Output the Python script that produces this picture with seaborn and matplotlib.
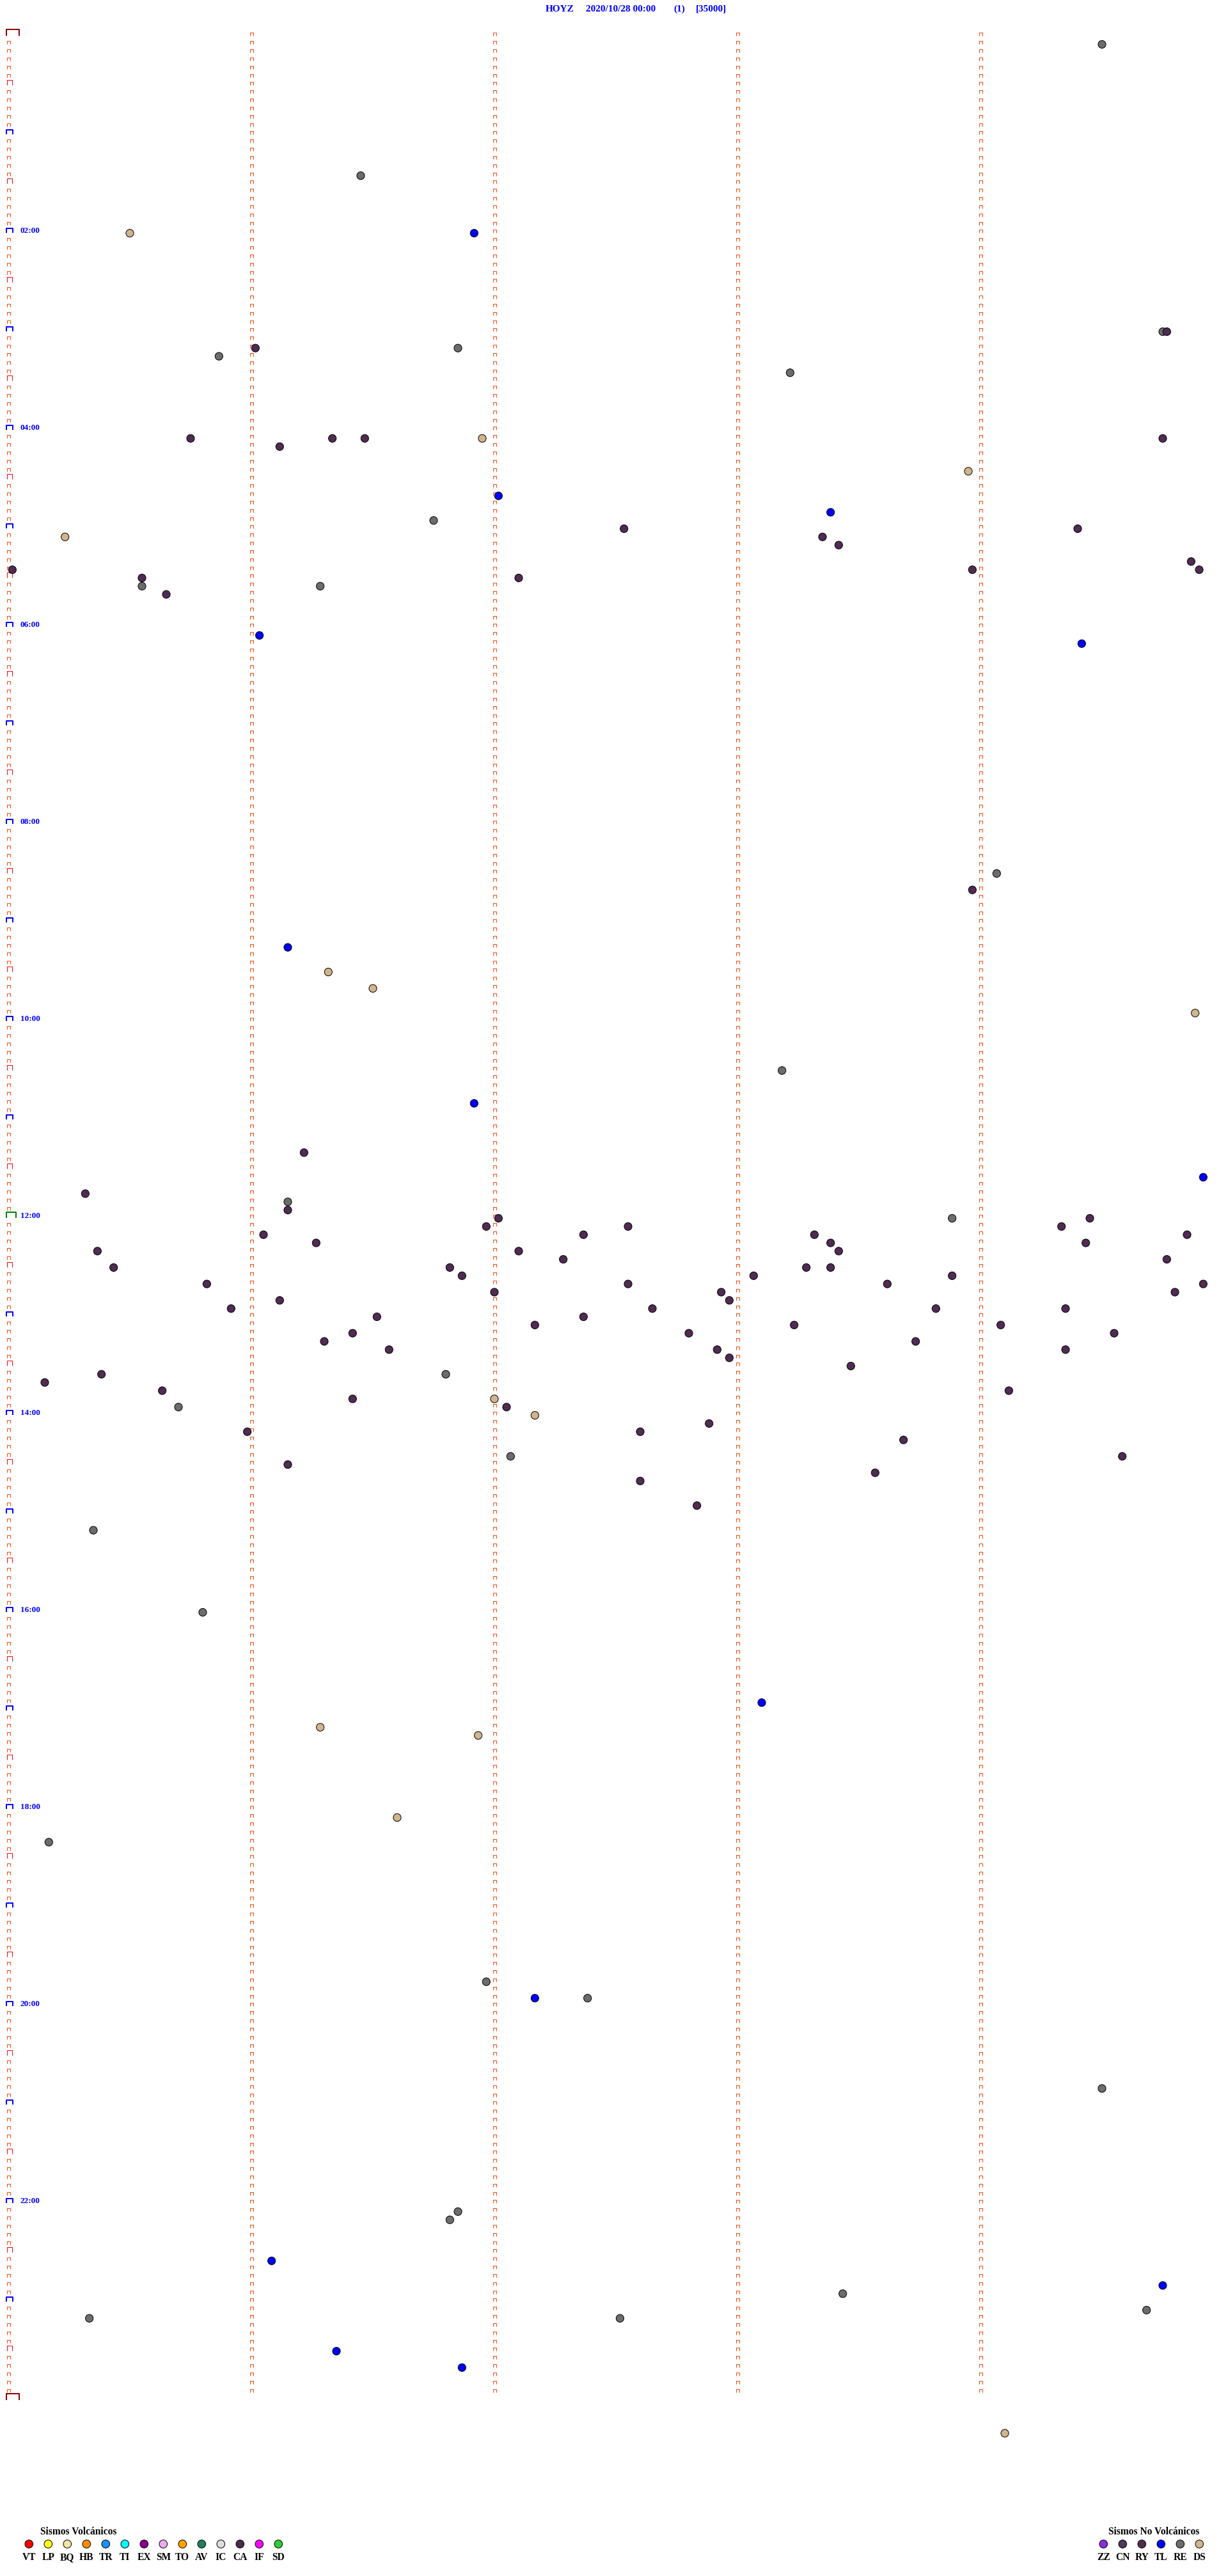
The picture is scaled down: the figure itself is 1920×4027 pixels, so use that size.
import numpy as np
import pandas as pd
import matplotlib
matplotlib.use('Agg')
import matplotlib.pyplot as plt
from matplotlib.path import Path
import seaborn as sns

# header of the helicorder page
station = 'HOYZ'
start_label = '2020/10/28 00:00'
page = '(1)'
gain = '[35000]'

# event times (hh:mm:ss), one list per type
ry_times = ['03:04:46', '03:11:01', '04:05:45', '04:06:20', '04:06:28', '04:09:45', '04:11:07',
            '05:02:32', '05:04:24', '05:08:21', '05:13:25', '05:24:52', '05:25:01', '05:28:58',
            '05:29:54', '05:30:33', '05:32:06', '05:40:39', '08:43:58', '11:21:13',
            '11:45:19', '11:56:09', '12:02:01', '12:04:27', '12:06:58', '12:07:33', '12:09:20',
            '12:11:03', '12:12:22', '12:13:19', '12:14:51', '12:16:16', '12:18:23', '12:19:26',
            '12:20:22', '12:22:06', '12:23:25', '12:27:17', '12:29:46', '12:30:26', '12:31:49',
            '12:33:17', '12:33:23', '12:36:52', '12:38:04', '12:38:53', '12:40:49', '12:42:33',
            '12:43:37', '12:44:55', '12:47:00', '12:47:56', '12:49:48', '12:51:07', '12:52:58',
            '12:55:55', '12:57:39', '12:58:49', '12:59:21', '13:01:31', '13:02:22', '13:07:10',
            '13:08:14', '13:09:05', '13:11:25', '13:12:48', '13:14:33', '13:16:18', '13:18:44',
            '13:21:34', '13:22:55', '13:24:21', '13:27:58', '13:33:28', '13:35:23', '13:40:09',
            '13:45:38', '13:49:07', '13:51:25', '13:57:03', '14:07:53', '14:10:59', '14:12:36',
            '14:18:41', '14:29:35', '14:31:09', '14:38:34', '14:42:36', '14:57:50']
re_times = ['00:09:30', '01:26:27', '03:04:45', '03:11:51', '03:15:52', '03:28:13', '04:56:45',
            '05:35:33', '05:36:17', '08:34:04', '10:33:11', '11:51:09', '12:03:53', '13:36:48',
            '13:55:42', '14:27:04', '15:10:21', '16:00:48', '18:20:10', '19:46:58', '19:57:23',
            '20:54:30', '22:06:51', '22:11:49', '22:58:26', '23:09:41', '23:10:20', '23:12:31']
tl_times = ['02:01:55', '04:42:01', '04:53:23', '06:06:02', '06:14:25', '09:16:09', '10:51:55',
            '11:39:55', '16:58:06', '19:57:10', '22:36:05', '22:54:45', '23:31:21', '23:41:52']
ds_times = ['02:00:30', '04:06:57', '04:28:57', '05:05:14', '09:31:19', '09:41:30', '09:59:53',
            '13:52:00', '14:02:10', '17:11:17', '17:16:56', '18:06:36', '24:24:06']

volc_codes = ['VT', 'LP', 'BQ', 'HB', 'TR', 'TI', 'EX', 'SM', 'TO', 'AV', 'IC', 'CA', 'IF', 'SD']
volc_colors = ['#ff0000', '#ffff00', '#f3e3a6', '#ff8c00', '#1e90ff', '#00ffff', '#8b008b',
               '#eeaaee', '#ffa500', '#20805f', '#dcdcdc', '#4a2a4a', '#ff00ff', '#32cd32']
novolc_codes = ['ZZ', 'CN', 'RY', 'TL', 'RE', 'DS']
novolc_colors = ['#8a2be2', '#4c3a58', '#502b53', '#0000ff', '#6c6c6c', '#d2b48c']

hour_labels = ['02:00', '04:00', '06:00', '08:00', '10:00', '12:00',
               '14:00', '16:00', '18:00', '20:00', '22:00']

row_minutes = 5
n_rows = 24 * 60 // row_minutes

sns.set_style('white')
plt.rcParams['font.family'] = ['Liberation Serif', 'DejaVu Serif']
plt.rcParams['font.weight'] = 'bold'


def to_sec(t):
    h, m, s = t.split(':')
    return int(h) * 3600 + int(m) * 60 + int(s)


events = pd.concat([pd.DataFrame({'tipo': k, 'sec': [to_sec(t) for t in v]})
                    for k, v in [('RY', ry_times), ('RE', re_times),
                                 ('TL', tl_times), ('DS', ds_times)]])
events = events.sort_values('sec').reset_index(drop=True)
events['row'] = events['sec'] // (row_minutes * 60)
events['minute'] = (events['sec'] % (row_minutes * 60)) / 60
events['hour'] = events['row'] * row_minutes / 60

W, H, DPI = 1920, 4027, 100
x0, px_min = 13, 380          # pixel of column 0, pixels per minute
y0, px_hour = 56.5, 154       # pixel of 00:00 row, pixels per hour

fig = plt.figure(figsize=(W / DPI, H / DPI), dpi=DPI)
fig.patch.set_facecolor('white')
ax = fig.add_axes([0, 0, 1, 1])
ax.set_axis_off()


def mark(left, w, h):
    verts = [(left, 0), (left, h), (left + w, h), (left + w, 0)]
    codes = [Path.MOVETO, Path.LINETO, Path.LINETO, Path.LINETO]
    rescale = max(abs(c) for p in verts for c in p)
    return Path(verts, codes), 2 * rescale * 72 / DPI


# left column: one mark per row, type depends on the time of the row
idx = np.arange(n_rows + 1)
kind = np.where(idx % 12 == 6, 'half', 'tick').astype(object)
kind[idx % 12 == 0] = 'hour'
kind[idx == n_rows // 2] = 'noon'
kind[(idx == 0) | (idx == n_rows)] = 'day'
styles = {'tick': (-2.5, 5, 5.5, '#ff4500', 1),
          'half': (-2.5, 8, 8.5, '#ff0000', 1),
          'hour': (-3, 10, 7, '#0000ff', 2),
          'noon': (-3, 15, 9, '#008000', 2),
          'day': (-3, 20, 10, '#8b0000', 2)}
for k, (left, w, h, col, lw) in styles.items():
    sel = idx[kind == k]
    p, ms = mark(left, w, h)
    ax.plot(np.zeros(len(sel)), sel * row_minutes / 60, ls='none', marker=p, ms=ms,
            mfc='none', mec=col, mew=lw * 72 / DPI)

# minute columns inside the rows
p, ms = mark(-2.5, 5, 5.5)
for c in range(1, row_minutes):
    rr = np.arange(n_rows)
    ax.plot(np.full(len(rr), c), rr * row_minutes / 60, ls='none', marker=p, ms=ms,
            mfc='none', mec='#ff4500', mew=72 / DPI)

for lab in hour_labels:
    hh = int(lab.split(':')[0])
    ax.text((32 - x0) / px_min, hh, lab, color='#0000ff', fontsize=9.5,
            fontweight='bold', ha='left', va='baseline')

pal = dict(zip(novolc_codes, novolc_colors))
sns.scatterplot(data=events, x='minute', y='hour', hue='tipo', palette=pal,
                s=76, edgecolor='black', linewidth=0.72, legend=False, ax=ax, zorder=5)
ax.set_xlim(-x0 / px_min, (W - x0) / px_min)
ax.set_ylim((H - y0) / px_hour, -y0 / px_hour)
ax.set_axis_off()

# header
for txt, xp in [(station, 853), (start_label, 916), (page, 1053), (gain, 1088)]:
    fig.text(xp / W, 1 - 18 / H, txt, color='#0000ff', fontsize=11,
             fontweight='bold', ha='left', va='baseline')

# legends at the bottom
lax = fig.add_axes([0, 0, 1, 100 / H])
lax.set_axis_off()
shift = 56
leg = pd.DataFrame({'code': volc_codes + novolc_codes,
                    'pos': list(range(len(volc_codes))) +
                           list(range(shift, shift + len(novolc_codes)))})
leg['y'] = 0.0
lpal = dict(zip(volc_codes + novolc_codes, volc_colors + novolc_colors))
sns.scatterplot(data=leg, x='pos', y='y', hue='code', palette=lpal, s=82,
                edgecolor='black', linewidth=0.72, legend=False, ax=lax)
for _, r in leg.iterrows():
    lax.text(r['pos'], -0.5, r['code'], fontsize=11.2, fontweight='bold',
             ha='center', va='baseline', color='black')
lax.text((63 - 45.3) / 30, 0.31, 'Sismos Volcánicos', fontsize=11.2,
         fontweight='bold', ha='left', va='baseline', color='black')
lax.text((1733 - 45.3) / 30, 0.31, 'Sismos No Volcánicos', fontsize=11.2,
         fontweight='bold', ha='left', va='baseline', color='black')
lax.set_xlim(-45.3 / 30, (W - 45.3) / 30)
lax.set_ylim(-1, 1)
lax.set_axis_off()

fig.savefig('out.png', dpi=DPI, facecolor='white')
